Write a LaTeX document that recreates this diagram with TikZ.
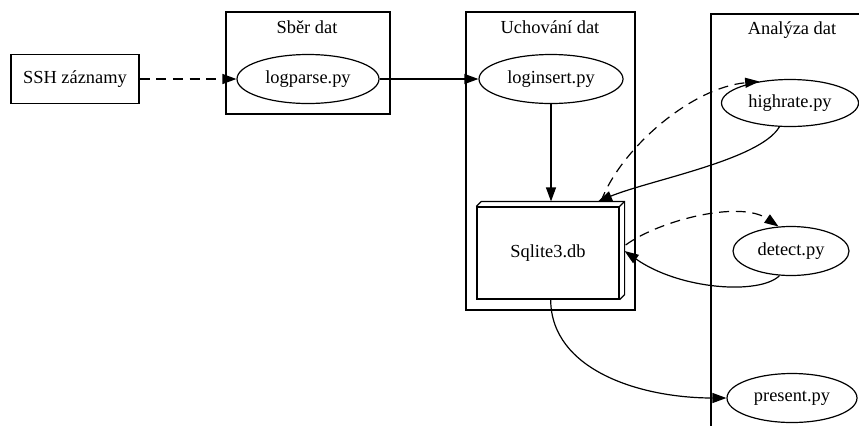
\documentclass[tikz,border=0pt]{standalone}
\usepackage{fontspec}
\setmainfont{Liberation Serif}
\usetikzlibrary{arrows.meta}
\usetikzlibrary{shapes.geometric}

\begin{document}
\begin{tikzpicture}[x=0.75pt,y=-0.75pt,line width=0.9pt,
    font=\fontsize{13.8}{16}\selectfont,
    proc/.style={draw, ellipse, inner sep=0pt, minimum height=36.75pt},
    boite/.style={draw, rectangle, inner sep=0pt},
    fleche/.style={-{Triangle[length=10.5pt,width=7.5pt]}},
    pointille/.style={fleche, dash pattern=on 7.5pt off 5pt}]
    \useasboundingbox (0,0) rectangle (859,426);
    % groupes
    \draw (226,12) rectangle (390,114);
    \draw (466,12) rectangle (635,310);
    \draw (859,14) -- (711,14) -- (711,426);
    \node (sber) at (307,27) {Sběr dat};
    \node (uchovani) at (550,27) {Uchování dat};
    \node (analyza) at (792,30) {Analýza dat};
    % noeuds
    \node[boite, minimum width=96pt, minimum height=36.75pt] (ssh) at (75,79) {SSH záznamy};
    \node[proc, minimum width=106.5pt] (logparse) at (308,79) {logparse.py};
    \node[proc, minimum width=108pt] (loginsert) at (551,79) {loginsert.py};
    \node[boite, minimum width=106.5pt, minimum height=69pt] (db) at (548,253) {Sqlite3.db};
    \node[proc, minimum width=102.75pt, minimum height=35.25pt] (highrate) at (790,103) {highrate.py};
    \node[proc, minimum width=87pt] (detect) at (791,251) {detect.py};
    \node[proc, minimum width=97.5pt] (present) at (792,398) {present.py};
    % relief de la base
    \draw (db.north west) -- ++(5,-5) -- ([shift={(5,-5)}]db.north east)
        -- ([shift={(5,-5)}]db.south east) -- (db.south east);
    \draw (db.north east) -- ++(5,-5);
    \coordinate (dbhaut) at ([shift={(3,-5)}]db.north);
    \coordinate (dbh) at ([shift={(50,-5)}]db.north);
    \coordinate (dbhd) at ([shift={(53,-5)}]db.north);
    \coordinate (dbd) at ([shift={(5,-2)}]db.east);
    \coordinate (dbdd) at ([shift={(6,-8)}]db.east);
    % fleches
    \draw[pointille] (ssh) -- (logparse);
    \draw[fleche] (logparse) -- (loginsert);
    \draw[fleche] (loginsert) -- (loginsert |- dbhaut);
    \draw[pointille] (dbhd) .. controls (620,150) and (690,88) .. (highrate.145);
    \draw[fleche] (highrate.-114) .. controls (760,160) and (650,180) .. (dbh);
    \draw[pointille] (dbdd) .. controls (660,220) and (740,200) .. (detect.117);
    \draw[fleche] (detect.-115) .. controls (760,295) and (680,290) .. (dbd);
    \draw[fleche] ([xshift=2pt]db.south) .. controls (551,370) and (640,398) .. (present.west);
\end{tikzpicture}
\end{document}
